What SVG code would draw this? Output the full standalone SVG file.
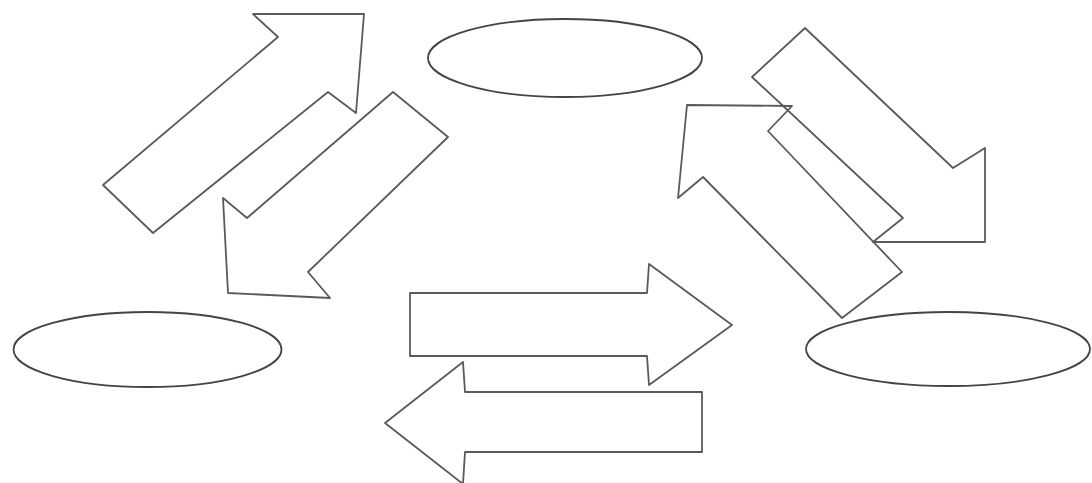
<svg xmlns="http://www.w3.org/2000/svg" width="1092" height="483" viewBox="0 0 1092 483">
<style>
.node{fill:none;stroke:#444;stroke-width:1.8}
.blk{fill:none;stroke:#5a5a5a;stroke-width:1.8;stroke-linejoin:round}
</style>
<rect width="1092" height="483" fill="#fff"/>
<g id="node-top"><ellipse class="node" cx="565" cy="58" rx="137" ry="39"/></g>
<g id="node-left"><ellipse class="node" cx="147.5" cy="349.5" rx="134" ry="37.5"/></g>
<g id="node-right"><ellipse class="node" cx="948" cy="349" rx="142" ry="37"/></g>
<g id="connectors">
<polygon id="arrow-left-to-top" class="blk" points="153,233 103,185 278,37 253,14 364,14 356,113 328,92"/>
<polygon id="arrow-top-to-left" class="blk" points="393,92 448,137 308,272 330,298 228,293 223,198 247,218"/>
<polygon id="arrow-top-to-right" class="blk" points="752,77 805,28 953,168 985,148 985,242 873,242 903,218"/>
<polygon id="arrow-right-to-top" class="blk" points="687,105 792,106 768,131 902,272 842,318 703,177 678,198"/>
<polygon id="arrow-left-to-right" class="blk" points="410,293 647,293 649,264 732,325 649,385 647,356 410,356"/>
<polygon id="arrow-right-to-left" class="blk" points="702,392 465,392 463,362 385,423 463,484 465,452 702,452"/>
</g>
</svg>
